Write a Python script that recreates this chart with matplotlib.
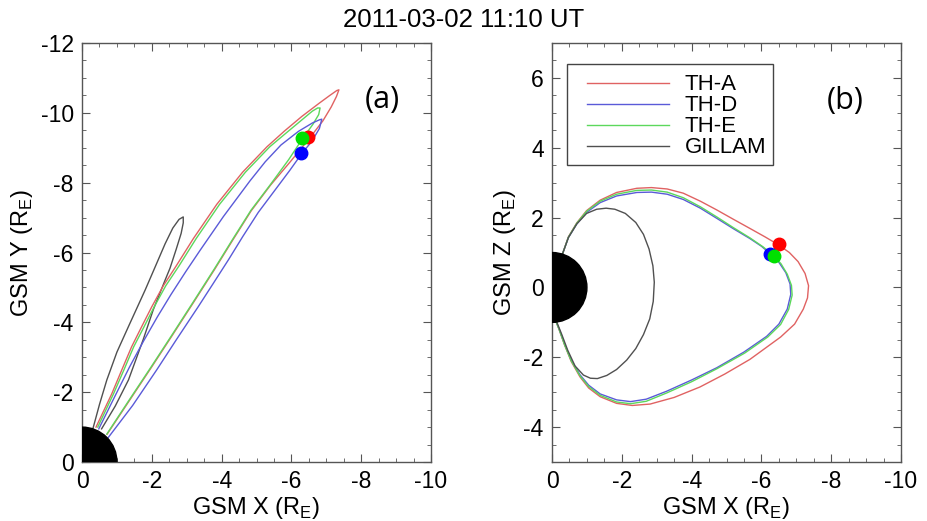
import numpy as np
import matplotlib
matplotlib.use("Agg")
import matplotlib.pyplot as plt
from matplotlib.patches import Circle, Rectangle

plt.rcParams['font.family'] = ['Liberation Sans', 'DejaVu Sans']
plt.rcParams['mathtext.fontset'] = 'custom'
plt.rcParams['mathtext.rm'] = 'Liberation Sans'
plt.rcParams['axes.unicode_minus'] = False

# field line traces, GSM coords in R_E
# panel (a): X-Y projection, earth -> outer leg -> tip -> inner leg -> earth
tha_xa = [-0.40, -0.85, -1.14, -1.42, -1.71, -2.00, -2.33, -2.70, -3.19, -3.86, -4.60, -5.30, -5.80, -6.30,
          -6.80, -7.10, -7.30, -7.36, -7.29, -7.14, -6.90, -6.50, -5.95, -5.40, -4.85, -4.32, -3.80, -3.20,
          -2.60, -2.00, -1.35, -0.72]
tha_ya = [-1.00, -1.95, -2.64, -3.30, -3.88, -4.45, -5.05, -5.62, -6.40, -7.38, -8.30, -9.03, -9.48, -9.90,
          -10.28, -10.50, -10.64, -10.66, -10.47, -10.17, -9.77, -9.25, -8.58, -7.93, -7.20, -6.36, -5.52, -4.58,
          -3.65, -2.73, -1.75, -0.80]

thd_xa = [-0.48, -0.95, -1.36, -1.76, -2.16, -2.55, -2.97, -3.38, -4.05, -4.81, -5.25, -5.70, -6.20, -6.60,
          -6.80, -6.87, -6.80, -6.58, -6.30, -5.95, -5.50, -5.05, -4.60, -4.20, -3.75, -3.33, -2.70, -2.14,
          -1.45, -0.75]
thd_ya = [-0.95, -1.90, -2.72, -3.46, -4.16, -4.80, -5.45, -6.06, -7.03, -8.05, -8.60, -9.08, -9.47, -9.71,
          -9.80, -9.82, -9.55, -9.18, -8.84, -8.35, -7.75, -7.15, -6.45, -5.80, -5.10, -4.45, -3.50, -2.64,
          -1.62, -0.70]

the_xa = [-0.45, -0.90, -1.20, -1.48, -1.78, -2.07, -2.40, -2.78, -3.27, -3.94, -4.68, -5.38, -5.88, -6.30,
          -6.60, -6.75, -6.82, -6.78, -6.62, -6.31, -5.92, -5.40, -4.84, -4.31, -3.79, -3.19, -2.59, -1.99,
          -1.34, -0.71]
the_ya = [-1.00, -1.95, -2.64, -3.30, -3.88, -4.45, -5.05, -5.62, -6.40, -7.38, -8.30, -9.03, -9.45, -9.80,
          -10.05, -10.14, -10.14, -9.95, -9.68, -9.25, -8.66, -7.95, -7.21, -6.37, -5.53, -4.59, -3.66, -2.74,
          -1.76, -0.80]

gil_xa = [-0.31, -0.50, -0.71, -1.00, -1.33, -1.81, -2.10, -2.38, -2.60, -2.78, -2.90, -2.90, -2.84, -2.70,
          -2.52, -2.38, -2.04, -1.75, -1.33, -0.95, -0.56]
gil_ya = [-0.95, -1.65, -2.35, -3.15, -3.88, -4.93, -5.60, -6.25, -6.70, -6.95, -7.02, -6.85, -6.55, -6.10,
          -5.55, -5.21, -4.36, -3.50, -2.35, -1.60, -0.95]

# panel (b): X-Z projection
tha_xb = [-0.30, -0.47, -0.71, -0.99, -1.38, -1.85, -2.43, -2.85, -3.30, -3.76, -4.25, -4.72, -5.20, -5.67,
          -6.10, -6.49, -6.80, -7.05, -7.25, -7.35, -7.32, -7.20, -6.95, -6.55, -5.67, -4.95, -4.24, -3.50,
          -2.81, -2.30, -1.85, -1.38, -1.05, -0.80, -0.55, -0.36, -0.20, -0.12]
tha_zb = [0.96, 1.45, 1.85, 2.20, 2.50, 2.72, 2.84, 2.86, 2.82, 2.70, 2.47, 2.22, 1.95, 1.69,
          1.45, 1.22, 1.00, 0.74, 0.40, 0.05, -0.30, -0.62, -1.05, -1.42, -2.06, -2.48, -2.85, -3.15,
          -3.34, -3.38, -3.32, -3.13, -2.88, -2.56, -2.12, -1.65, -1.20, -0.99]

thd_xb = [-0.30, -0.47, -0.71, -0.99, -1.38, -1.85, -2.43, -2.85, -3.30, -3.76, -4.25, -4.72, -5.20, -5.67,
          -6.00, -6.25, -6.50, -6.70, -6.82, -6.84, -6.74, -6.50, -6.15, -5.50, -4.72, -4.00, -3.29, -2.70,
          -2.25, -1.85, -1.38, -1.05, -0.80, -0.55, -0.36, -0.20, -0.12]
thd_zb = [0.96, 1.43, 1.82, 2.15, 2.43, 2.62, 2.72, 2.73, 2.67, 2.52, 2.27, 1.98, 1.68, 1.40,
          1.18, 0.97, 0.72, 0.42, 0.10, -0.20, -0.62, -1.05, -1.40, -1.85, -2.30, -2.65, -2.97, -3.20,
          -3.27, -3.22, -3.05, -2.80, -2.50, -2.08, -1.62, -1.18, -0.99]

the_xb = [-0.30, -0.47, -0.71, -0.99, -1.38, -1.85, -2.43, -2.85, -3.30, -3.76, -4.25, -4.72, -5.20, -5.67,
          -6.05, -6.35, -6.56, -6.74, -6.86, -6.88, -6.78, -6.55, -6.18, -5.52, -4.72, -4.00, -3.29, -2.70,
          -2.25, -1.85, -1.38, -1.05, -0.80, -0.55, -0.36, -0.20, -0.12]
the_zb = [0.96, 1.44, 1.84, 2.18, 2.47, 2.67, 2.78, 2.79, 2.73, 2.57, 2.31, 2.02, 1.71, 1.42,
          1.16, 0.91, 0.68, 0.38, 0.06, -0.22, -0.63, -1.06, -1.42, -1.88, -2.33, -2.70, -3.02, -3.26,
          -3.33, -3.28, -3.09, -2.84, -2.53, -2.10, -1.64, -1.19, -0.99]

gil_xb = [-0.30, -0.47, -0.71, -0.99, -1.28, -1.55, -1.80, -2.10, -2.40, -2.62, -2.78, -2.89, -2.93, -2.90,
          -2.80, -2.62, -2.40, -2.14, -1.85, -1.57, -1.30, -1.10, -0.90, -0.66, -0.45, -0.28, -0.14]
gil_zb = [0.96, 1.43, 1.82, 2.12, 2.24, 2.27, 2.24, 2.12, 1.86, 1.52, 1.10, 0.62, 0.15, -0.40,
          -0.90, -1.35, -1.75, -2.08, -2.35, -2.52, -2.61, -2.60, -2.51, -2.25, -1.80, -1.35, -1.00]

# spacecraft positions
sc_names = ['TH-A', 'TH-D', 'TH-E']
sc_x = [-6.47, -6.28, -6.31]
sc_y = [-9.30, -8.86, -9.27]
sc_xz = [-6.49, -6.25, -6.35]
sc_z = [1.24, 0.97, 0.91]

line_cols = {'TH-A': '#e06262', 'TH-D': '#5a5ad8', 'TH-E': '#5cd85c', 'GILLAM': '#505050'}
dot_cols = {'TH-A': 'red', 'TH-D': 'blue', 'TH-E': '#00e000'}

fig = plt.figure(figsize=(9.27, 5.21), dpi=100)
axa = fig.add_axes([0.0885, 0.1132, 0.3765, 0.8042])
axb = fig.add_axes([0.5955, 0.1132, 0.3765, 0.8042])


def style(ax):
    ax.set_xlim(0, -10)
    ax.set_xticks(np.arange(0, -10.1, -2))
    ax.set_xticklabels(['0', '-2', '-4', '-6', '-8', '-10'])
    ax.set_xticks(np.arange(0, -10.1, -0.5), minor=True)
    ax.tick_params(which='both', direction='in', top=True, right=True, color='#555555')
    ax.tick_params(which='major', length=6, labelsize=16.5, pad=6)
    ax.tick_params(which='minor', length=3)
    for s in ax.spines.values():
        s.set_color('#555555')
        s.set_linewidth(1.0)
    ax.set_xlabel('GSM X (R$_\\mathrm{E}$)', fontsize=17, labelpad=1)


# (a)
style(axa)
axa.set_ylim(0, -12)
axa.set_yticks(np.arange(0, -12.1, -2))
axa.set_yticklabels(['0', '-2', '-4', '-6', '-8', '-10', '-12'])
axa.set_yticks(np.arange(0, -12.1, -0.5), minor=True)
axa.set_ylabel('GSM Y (R$_\\mathrm{E}$)', fontsize=17, labelpad=4)
axa.plot(gil_xa, gil_ya, color=line_cols['GILLAM'], lw=1.0)
axa.plot(tha_xa, tha_ya, color=line_cols['TH-A'], lw=1.0)
axa.plot(the_xa, the_ya, color=line_cols['TH-E'], lw=1.0)
axa.plot(thd_xa, thd_ya, color=line_cols['TH-D'], lw=1.0)
axa.add_patch(Circle((0, 0), 1, color='black', zorder=5))
for i in [0, 1, 2]:
    axa.plot(sc_x[i], sc_y[i], 'o', color=dot_cols[sc_names[i]], ms=9, zorder=6)
axa.text(0.86, 0.864, '(a)', transform=axa.transAxes, fontsize=22, family=['Open Sans', 'DejaVu Sans'],
         ha='center', va='center')

# (b)
style(axb)
axb.set_ylim(-5, 7)
axb.set_yticks(np.arange(-4, 6.1, 2))
axb.set_yticklabels(['-4', '-2', '0', '2', '4', '6'])
axb.set_yticks(np.arange(-5, 7.1, 0.5), minor=True)
axb.set_ylabel('GSM Z (R$_\\mathrm{E}$)', fontsize=17, labelpad=4)
ha, = axb.plot(tha_xb, tha_zb, color=line_cols['TH-A'], lw=1.0, label='TH-A')
hd, = axb.plot(thd_xb, thd_zb, color=line_cols['TH-D'], lw=1.0, label='TH-D')
he, = axb.plot(the_xb, the_zb, color=line_cols['TH-E'], lw=1.0, label='TH-E')
hg, = axb.plot(gil_xb, gil_zb, color=line_cols['GILLAM'], lw=1.0, label='GILLAM')
axb.add_patch(Circle((0, 0), 1, color='black', zorder=5))
for i in [0, 1, 2]:
    axb.plot(sc_xz[i], sc_z[i], 'o', color=dot_cols[sc_names[i]], ms=9, zorder=6)
axb.text(0.84, 0.862, '(b)', transform=axb.transAxes, fontsize=22, family=['Open Sans', 'DejaVu Sans'],
         ha='center', va='center')
leg = axb.legend(handles=[ha, hd, he, hg], loc='upper left', bbox_to_anchor=(0.100, 0.925),
                 borderaxespad=0, borderpad=0, fontsize=16, handlelength=3.7, handletextpad=0.7,
                 labelspacing=0.0, frameon=False)
axb.add_patch(Rectangle((0.042, 0.710), 0.590, 0.239, transform=axb.transAxes, fill=False,
                        edgecolor='#444444', lw=1.0, zorder=7))

fig.text(0.5, 0.962, '2011-03-02 11:10 UT', ha='center', va='center', fontsize=18.5)

fig.savefig('out.png', dpi=100)
